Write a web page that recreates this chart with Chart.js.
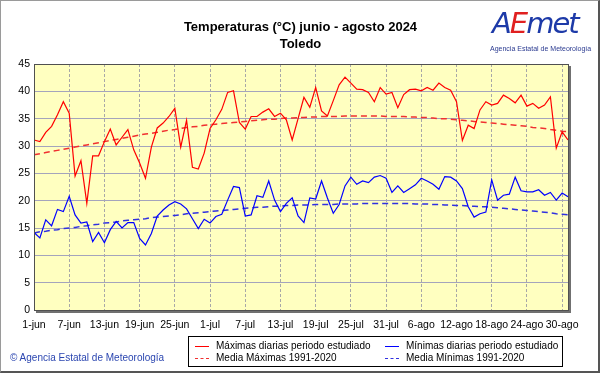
<!DOCTYPE html>
<html>
<head>
<meta charset="utf-8">
<script src="https://cdn.jsdelivr.net/npm/chart.js@4.4.1/dist/chart.umd.min.js"></script>
<style>
  body { margin: 0; background: #fff; font-family: Arial, "Liberation Sans", sans-serif; }
  #frame { position: absolute; left: 0; top: 0; width: 597px; height: 370px;
           border: 1px solid #9a9a9a; border-right: 2px solid #555; border-bottom: 2px solid #555; }
  #chart { position: absolute; left: 0; top: 0; }
  .title { position: absolute; left: 0; width: 601px; text-align: center; font-weight: bold; font-size: 13px; color: #000; }
  #logo { position: absolute; left: 492px; top: 6px; font-family: "DejaVu Sans", sans-serif; font-style: italic;
          font-size: 29px; letter-spacing: -2px; font-weight: 300; }
  #logoSub { position: absolute; left: 490px; top: 45px; font-size: 7px; color: #2a3a90; }
  #copy { position: absolute; left: 10px; top: 352px; font-size: 10px; color: #2b46b0; }
  #legend { position: absolute; left: 188px; top: 336px; width: 373px; height: 29px; border: 1px solid #000;
            font-size: 10px; }
  .item { position: absolute; white-space: nowrap; }
  .item span.ln { display: inline-block; width: 14px; height: 0; vertical-align: middle; margin-right: 7px; }
</style>
</head>
<body>
<div id="frame"></div>
<canvas id="chart" width="601" height="374"></canvas>
<div class="title" style="top:19px">Temperaturas (°C) junio - agosto 2024</div>
<div class="title" style="top:36px">Toledo</div>
<div id="logo"><span style="color:#1d3aa8">A</span><span style="color:#e02020">E</span><span style="color:#1d3aa8">met</span></div>
<div id="logoSub">Agencia Estatal de Meteorología</div>
<div id="copy">© Agencia Estatal de Meteorología</div>
<div id="legend">
  <div class="item" style="left:6px;top:3px"><span class="ln" style="border-top:1.5px solid #f00"></span>Máximas diarias periodo estudiado</div>
  <div class="item" style="left:196px;top:3px"><span class="ln" style="border-top:1.5px solid #00f"></span>Mínimas diarias periodo estudiado</div>
  <div class="item" style="left:6px;top:15px"><span class="ln" style="border-top:1.5px dashed #f03030"></span>Media Máximas 1991-2020</div>
  <div class="item" style="left:196px;top:15px"><span class="ln" style="border-top:1.5px dashed #3030e0"></span>Media Mínimas 1991-2020</div>
</div>
<script>
// x tick labels, one every 6 days from 1 June
const xTickLabels = ['1-jun', '7-jun', '13-jun', '19-jun', '25-jun', '1-jul', '7-jul', '13-jul',
                     '19-jul', '25-jul', '31-jul', '6-ago', '12-ago', '18-ago', '24-ago', '30-ago'];
const yTicks = [0, 5, 10, 15, 20, 25, 30, 35, 40, 45];

// daily maxima, 1 jun .. 31 ago
const maxDaily = [
  31.1, 30.8, 32.5, 33.6, 35.7, 38.1, 36.0, 24.5, 27.3, 19.5,
  28.2, 28.2, 30.8, 33.1, 30.2, 31.6, 33.0, 29.3, 26.9, 24.1,
  29.8, 33.3, 34.2, 35.4, 36.9, 29.8, 34.7, 26.1, 25.8, 28.7,
  33.2, 34.8, 36.7, 39.8, 40.1, 34.3, 33.1, 35.4, 35.4, 36.2,
  36.8, 35.4, 36.0, 34.8, 31.1, 35.0, 38.9, 37.1, 40.7, 36.4,
  35.5, 38.3, 41.2, 42.6, 41.5, 40.4, 40.3, 39.8, 38.1, 40.7,
  39.5, 39.8, 37.0, 39.4, 40.3, 40.4, 40.1, 40.7, 40.2, 41.5,
  40.7, 40.2, 38.1, 31.0, 33.8, 33.2, 36.6, 38.1, 37.5, 37.8,
  39.3, 38.7, 37.9, 39.3, 37.3, 37.8, 36.9, 37.5, 39.0, 29.6,
  32.6, 31.1
];

// daily minima
const minDaily = [
  14.2, 13.2, 16.5, 15.4, 18.4, 18.0, 20.8, 17.4, 15.9, 16.1,
  12.5, 14.2, 12.3, 14.7, 16.2, 15.0, 16.0, 16.0, 13.1, 11.9,
  14.0, 17.2, 18.3, 19.2, 19.8, 19.4, 18.5, 16.7, 14.9, 16.6,
  15.9, 17.1, 17.5, 20.1, 22.6, 22.4, 17.2, 17.4, 20.9, 20.6,
  23.6, 20.1, 18.0, 19.5, 20.5, 17.2, 16.0, 20.5, 20.3, 23.6,
  20.5, 17.7, 19.3, 22.7, 24.3, 23.0, 23.6, 23.3, 24.3, 24.6,
  24.1, 21.5, 22.7, 21.5, 22.2, 22.9, 24.1, 23.6, 23.0, 22.1,
  24.4, 24.3, 23.6, 22.2, 18.9, 17.0, 17.6, 17.9, 23.8, 20.1,
  21.0, 21.2, 24.3, 21.8, 21.6, 21.6, 22.0, 21.0, 21.5, 20.1,
  21.4, 20.7
];

// normals 1991-2020
const maxNormal = [
  28.4, 28.6, 28.8, 29.0, 29.2, 29.4, 29.6, 29.8, 30.0, 30.2,
  30.4, 30.6, 30.8, 31.0, 31.2, 31.4, 31.6, 31.8, 32.0, 32.2,
  32.3, 32.5, 32.7, 32.9, 33.0, 33.2, 33.4, 33.5, 33.6, 33.8,
  33.9, 34.0, 34.1, 34.2, 34.3, 34.4, 34.5, 34.6, 34.7, 34.8,
  34.9, 34.9, 35.0, 35.1, 35.1, 35.2, 35.2, 35.3, 35.3, 35.4,
  35.4, 35.4, 35.4, 35.5, 35.5, 35.5, 35.5, 35.5, 35.5, 35.5,
  35.4, 35.4, 35.4, 35.4, 35.3, 35.3, 35.2, 35.2, 35.1, 35.0,
  35.0, 34.9, 34.8, 34.7, 34.6, 34.5, 34.4, 34.3, 34.2, 34.1,
  34.0, 33.9, 33.8, 33.7, 33.6, 33.4, 33.3, 33.2, 33.0, 32.9,
  32.7, 32.6
];

const minNormal = [
  14.1, 14.3, 14.4, 14.6, 14.7, 14.9, 15.0, 15.1, 15.3, 15.4,
  15.6, 15.7, 15.9, 16.0, 16.1, 16.3, 16.4, 16.5, 16.6, 16.7,
  16.9, 17.0, 17.1, 17.2, 17.3, 17.4, 17.6, 17.7, 17.8, 17.9,
  18.0, 18.1, 18.2, 18.3, 18.4, 18.5, 18.6, 18.7, 18.8, 18.8,
  18.9, 19.0, 19.0, 19.1, 19.1, 19.2, 19.2, 19.2, 19.3, 19.3,
  19.3, 19.3, 19.4, 19.4, 19.4, 19.4, 19.5, 19.5, 19.5, 19.5,
  19.5, 19.5, 19.5, 19.5, 19.5, 19.4, 19.4, 19.4, 19.3, 19.3,
  19.2, 19.2, 19.1, 19.1, 19.0, 19.0, 18.9, 18.9, 18.8, 18.7,
  18.6, 18.5, 18.4, 18.3, 18.2, 18.1, 18.0, 17.9, 17.8, 17.6,
  17.5, 17.4
];

function pts(arr) {
  return arr.map((v, i) => ({ x: i, y: v }));
}

// yellow plot background and the framed border with shadow
const plotFrame = {
  id: 'plotFrame',
  beforeDraw(chart) {
    const { ctx, chartArea: a } = chart;
    ctx.save();
    ctx.fillStyle = '#ffffc0';
    ctx.fillRect(a.left, a.top, a.right - a.left, a.bottom - a.top);
    ctx.restore();
  },
  afterDraw(chart) {
    const { ctx, chartArea: a } = chart;
    ctx.save();
    ctx.strokeStyle = '#505050';
    ctx.lineWidth = 1;
    ctx.strokeRect(a.left + 0.5, a.top + 0.5, a.right - a.left, a.bottom - a.top);
    ctx.strokeStyle = '#707070';
    ctx.lineWidth = 2;
    ctx.beginPath();
    ctx.moveTo(a.right + 2, a.top + 2);
    ctx.lineTo(a.right + 2, a.bottom + 2);
    ctx.lineTo(a.left + 2, a.bottom + 2);
    ctx.stroke();
    ctx.restore();
  }
};

Chart.defaults.font.family = 'Arial, "Liberation Sans", sans-serif';
Chart.defaults.font.size = 11;
Chart.defaults.color = '#000';

new Chart(document.getElementById('chart').getContext('2d'), {
  type: 'line',
  data: {
    datasets: [
      { label: 'Máximas diarias periodo estudiado', data: pts(maxDaily), borderColor: '#ff0000', borderWidth: 1.2 },
      { label: 'Mínimas diarias periodo estudiado', data: pts(minDaily), borderColor: '#0000ff', borderWidth: 1.2 },
      { label: 'Media Máximas 1991-2020', data: pts(maxNormal), borderColor: '#f03030', borderWidth: 1.5, borderDash: [6, 4] },
      { label: 'Media Mínimas 1991-2020', data: pts(minNormal), borderColor: '#3030e0', borderWidth: 1.5, borderDash: [6, 4] }
    ]
  },
  options: {
    responsive: false,
    animation: false,
    elements: { point: { radius: 0 }, line: { tension: 0, fill: false } },
    layout: { padding: { left: 0, top: 64, right: 33, bottom: 42 } },
    plugins: { legend: { display: false }, title: { display: false }, tooltip: { enabled: false } },
    scales: {
      x: {
        type: 'linear',
        min: 0,
        max: 91,
        afterBuildTicks(scale) {
          scale.ticks = xTickLabels.map((t, i) => ({ value: i * 6 }));
        },
        afterFit(scale) { scale.height = 22; },
        ticks: {
          autoSkip: false,
          maxRotation: 0,
          padding: 9,
          font: { size: 10.5 },
          callback: (v, i) => xTickLabels[i]
        },
        grid: { color: '#a8a8a8', lineWidth: 1, drawTicks: false },
        border: { display: false, dash: [3, 2] }
      },
      y: {
        min: 0,
        max: 45,
        afterBuildTicks(scale) {
          scale.ticks = yTicks.map(v => ({ value: v }));
        },
        afterFit(scale) { scale.width = 34; },
        ticks: { padding: 4, font: { size: 10.5 } },
        grid: { color: '#a4a4bc', lineWidth: 1, drawTicks: false },
        border: { display: false }
      }
    }
  },
  plugins: [plotFrame]
});
</script>
</body>
</html>
